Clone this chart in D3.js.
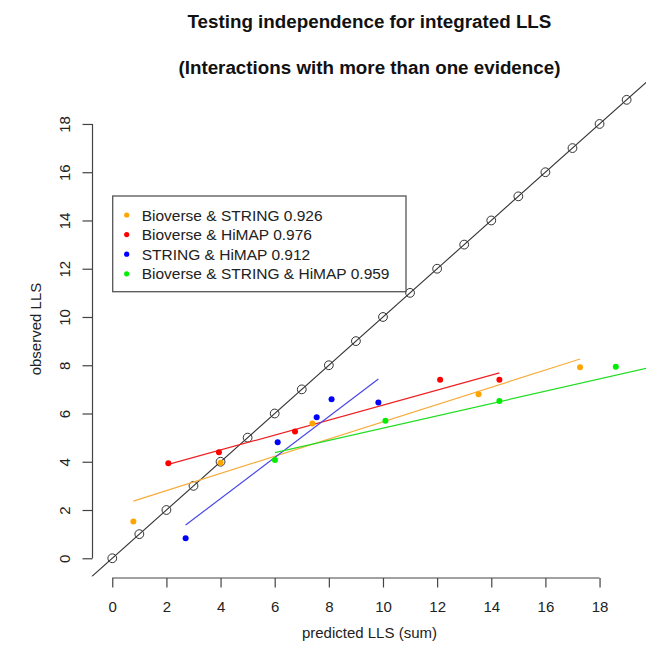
<!DOCTYPE html>
<html>
<head>
<meta charset="utf-8">
<script src="https://cdn.jsdelivr.net/npm/d3@7"></script>
<style>
  body { margin: 0; background: #fff; }
  svg { display: block; font-family: "Liberation Sans", Arial, sans-serif; }
</style>
</head>
<body>
<svg id="chart"></svg>
<script>
// values
var diagValues = [0, 1, 2, 3, 4, 5, 6, 7, 8, 9, 10, 11, 12, 13, 14, 15, 16, 17, 18, 19];
var axisTicks = [0, 2, 4, 6, 8, 10, 12, 14, 16, 18];

var seriesNames = ['Bioverse & STRING', 'Bioverse & HiMAP', 'STRING & HiMAP', 'Bioverse & STRING & HiMAP'];
var seriesR2 = ['0.926', '0.976', '0.912', '0.959'];
var seriesColors = ['#ffa500', '#ff0000', '#0000ff', '#00ee00'];
var lineColors = ['#f7ac3c', '#f02020', '#4848e8', '#22dd22'];

var bsX = [0.78, 4.0, 7.39, 13.53, 17.28];
var bsY = [1.52, 3.96, 5.59, 6.80, 7.92];
var bhX = [2.07, 3.94, 6.75, 12.11, 14.30];
var bhY = [3.94, 4.39, 5.25, 7.40, 7.40];
var shX = [2.71, 6.11, 7.55, 8.10, 9.83];
var shY = [0.83, 4.81, 5.84, 6.59, 6.46];
// last point sits outside the plot region (only its effect on the fit is visible)
var bshX = [6.01, 10.09, 14.30, 18.60, 22.5];
var bshY = [4.07, 5.70, 6.52, 7.94, 8.22];

var seriesX = [bsX, bhX, shX, bshX];
var seriesY = [bsY, bhY, shY, bshY];

var width = 646, height = 655;
var plot = { left: 91.7, right: 647.2, top: 81.5, bottom: 576.6 };

var svg = d3.select('#chart')
  .attr('width', width)
  .attr('height', height);

// R style usr range: data 0..19 widened by 4%
var x = d3.scaleLinear().domain([-0.76, 19.76]).range([plot.left, plot.right]);
var y = d3.scaleLinear().domain([-0.76, 19.76]).range([plot.bottom, plot.top]);

svg.append('clipPath').attr('id', 'plotclip')
  .append('rect')
  .attr('x', plot.left)
  .attr('y', plot.top)
  .attr('width', plot.right - plot.left)
  .attr('height', plot.bottom - plot.top);

var g = svg.append('g').attr('clip-path', 'url(#plotclip)');

// least squares fit, like lm() + lines over the data range
function fit(xs, ys) {
  var mx = d3.mean(xs), my = d3.mean(ys);
  var sxy = d3.sum(xs, function(v, i) { return (v - mx) * (ys[i] - my); });
  var sxx = d3.sum(xs, function(v) { return (v - mx) * (v - mx); });
  var b = sxy / sxx;
  return { a: my - b * mx, b: b };
}

var line = d3.line()
  .x(function(d) { return x(d[0]); })
  .y(function(d) { return y(d[1]); });

// y = x reference line with open circles
g.append('path')
  .datum([[-2, -2], [25, 25]])
  .attr('d', line)
  .attr('fill', 'none')
  .attr('stroke', '#333')
  .attr('stroke-width', 1.1);

g.selectAll('circle.diag')
  .data(diagValues)
  .enter().append('circle')
  .attr('class', 'diag')
  .attr('cx', function(d) { return x(d); })
  .attr('cy', function(d) { return y(d); })
  .attr('r', 4.4)
  .attr('fill', 'none')
  .attr('stroke', '#333')
  .attr('stroke-width', 1);

seriesX.forEach(function(xs, i) {
  var ys = seriesY[i];
  var f = fit(xs, ys);
  var x0 = d3.min(xs), x1 = d3.max(xs);
  g.append('path')
    .datum([[x0, f.a + f.b * x0], [x1, f.a + f.b * x1]])
    .attr('d', line)
    .attr('fill', 'none')
    .attr('stroke', lineColors[i])
    .attr('stroke-width', 1.2);
});

seriesX.forEach(function(xs, i) {
  var ys = seriesY[i];
  g.selectAll('circle.s' + i)
    .data(xs.map(function(v, j) { return [v, ys[j]]; }))
    .enter().append('circle')
    .attr('class', 's' + i)
    .attr('cx', function(d) { return x(d[0]); })
    .attr('cy', function(d) { return y(d[1]); })
    .attr('r', 3)
    .attr('fill', seriesColors[i]);
});

// axes, R style: line spans first to last tick only
var axisColor = '#444';
var xAxis = svg.append('g')
  .attr('transform', 'translate(0,' + 578 + ')')
  .call(d3.axisBottom(x).tickValues(axisTicks).tickSize(9.5).tickPadding(14));
xAxis.select('.domain').remove();
xAxis.append('line')
  .attr('x1', x(0)).attr('x2', x(18))
  .attr('stroke', axisColor).attr('stroke-width', 1.2);
xAxis.selectAll('.tick line').attr('stroke', axisColor).attr('stroke-width', 1.2);
xAxis.selectAll('.tick text')
  .attr('fill', '#222')
  .style('font-size', '15px')
  .style('font-family', '"Liberation Sans", Arial, sans-serif');

var yAxis = svg.append('g')
  .attr('transform', 'translate(' + 92.5 + ',0)')
  .call(d3.axisLeft(y).tickValues(axisTicks).tickSize(10));
yAxis.select('.domain').remove();
yAxis.append('line')
  .attr('y1', y(0)).attr('y2', y(18))
  .attr('stroke', axisColor).attr('stroke-width', 1.2);
yAxis.selectAll('.tick line').attr('stroke', axisColor).attr('stroke-width', 1.2);
yAxis.selectAll('.tick text')
  .attr('x', 0)
  .attr('y', -22.5)
  .attr('dy', null)
  .attr('transform', 'rotate(-90)')
  .attr('text-anchor', 'middle')
  .attr('fill', '#222')
  .style('font-size', '15px')
  .style('font-family', '"Liberation Sans", Arial, sans-serif');

// axis titles
svg.append('text')
  .attr('x', (plot.left + plot.right) / 2)
  .attr('y', 638)
  .attr('text-anchor', 'middle')
  .attr('fill', '#222')
  .style('font-size', '15px')
  .text('predicted LLS (sum)');

svg.append('text')
  .attr('transform', 'translate(41,' + ((plot.top + plot.bottom) / 2) + ') rotate(-90)')
  .attr('text-anchor', 'middle')
  .attr('fill', '#222')
  .style('font-size', '15px')
  .text('observed LLS');

// main title, two lines
svg.append('text')
  .attr('x', (plot.left + plot.right) / 2)
  .attr('y', 28)
  .attr('text-anchor', 'middle')
  .attr('fill', '#111')
  .style('font-size', '18.8px')
  .style('font-weight', 'bold')
  .text('Testing independence for integrated LLS');

svg.append('text')
  .attr('x', (plot.left + plot.right) / 2)
  .attr('y', 74)
  .attr('text-anchor', 'middle')
  .attr('fill', '#111')
  .style('font-size', '18.8px')
  .style('font-weight', 'bold')
  .text('(Interactions with more than one evidence)');

// legend
var legend = svg.append('g');
legend.append('rect')
  .attr('x', 112.7).attr('y', 196)
  .attr('width', 406 - 112.7).attr('height', 291.7 - 196)
  .attr('fill', '#fff')
  .attr('stroke', '#555')
  .attr('stroke-width', 1.3);

var rows = legend.selectAll('g.row')
  .data(seriesNames)
  .enter().append('g')
  .attr('class', 'row')
  .attr('transform', function(d, i) { return 'translate(0,' + (215 + i * 19.6) + ')'; });

rows.append('circle')
  .attr('cx', 126.7).attr('cy', 0).attr('r', 2.6)
  .attr('fill', function(d, i) { return seriesColors[i]; });

rows.append('text')
  .attr('x', 141.7).attr('y', 5.5)
  .attr('fill', '#222')
  .style('font-size', '15.5px')
  .text(function(d, i) { return d + ' ' + seriesR2[i]; });
</script>
</body>
</html>
